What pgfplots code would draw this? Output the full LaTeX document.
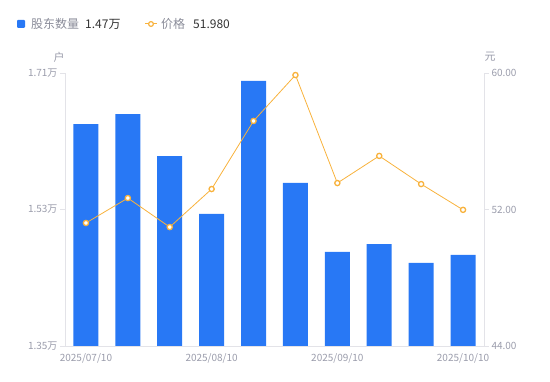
\documentclass[border=0pt]{standalone}
\usepackage{pgfplots}
\pgfplotsset{compat=1.18}
\usepackage{fontspec}
\setmainfont{Noto Sans CJK SC}
\definecolor{barblue}{HTML}{2878F5}
\definecolor{lineor}{HTML}{F8B23C}
\definecolor{tickgray}{HTML}{9A9CAB}
\definecolor{axgray}{HTML}{E3E3E8}
\definecolor{legtext}{HTML}{8A8C99}
\definecolor{legval}{HTML}{333333}
\begin{document}
\begin{tikzpicture}[x=1pt,y=1pt]
\path (0,0) rectangle (550,381);
\begin{axis}[
  at={(65pt,35pt)}, anchor=south west, scale only axis,
  width=419pt, height=273pt,
  xmin=0.5, xmax=10.5, ymin=1.35, ymax=1.71,
  axis x line*=bottom, axis y line*=left,
  axis line style={draw=axgray,-},
  xtick={1,4,7,10},
  xticklabels={2025/07/10,2025/08/10,2025/09/10,2025/10/10},
  x tick style={draw=none},
  ytick={1.35,1.53,1.71},
  yticklabels={1.35万,1.53万,1.71万},
  y tick style={draw=axgray},
  tick align=outside, major tick length=5pt,
  ticklabel style={font=\fontsize{10}{12}\selectfont, text=tickgray},
  xticklabel style={yshift=1pt},
  yticklabel style={xshift=1pt},
  clip=false,
]
\addplot[ybar, bar width=25pt, bar shift=0pt, fill=barblue, draw=none] coordinates {
 (1,1.6427) (2,1.6559) (3,1.6005) (4,1.5241) (5,1.6995)
 (6,1.5650) (7,1.4740) (8,1.4845) (9,1.4595) (10,1.4700)};
\end{axis}
\begin{axis}[
  at={(65pt,35pt)}, anchor=south west, scale only axis,
  width=419pt, height=273pt,
  xmin=0.5, xmax=10.5, ymin=44, ymax=60,
  axis x line=none, axis y line*=right,
  axis line style={draw=axgray,-},
  ytick={44,52,60},
  yticklabels={44.00,52.00,60.00},
  y tick style={draw=axgray},
  tick align=outside, major tick length=5pt,
  ticklabel style={font=\fontsize{10}{12}\selectfont, text=tickgray},
  yticklabel style={xshift=-1pt},
  clip=false,
]
\addplot[lineor, line width=0.8pt, mark=*, mark size=2.6pt,
  mark options={fill=white, draw=lineor, line width=1.3pt}] coordinates {
 (1,51.21) (2,52.67) (3,50.97) (4,53.20) (5,57.19)
 (6,59.88) (7,53.55) (8,55.14) (9,53.49) (10,51.98)};
\end{axis}
% axis titles
\node[text=tickgray, font=\fontsize{11}{13}\selectfont] at (59,324) {户};
\node[text=tickgray, font=\fontsize{11}{13}\selectfont] at (490,324) {元};
% legend
\fill[barblue, rounded corners=1pt] (17,353) rectangle (25,361);
\node[anchor=west, inner sep=0pt, text=legtext, font=\fontsize{12}{14}\selectfont] at (31,357) {股东数量};
\node[anchor=west, inner sep=0pt, text=legval, font=\fontsize{12}{14}\selectfont] at (85,357) {1.47万};
\draw[lineor, line width=1pt] (145,357) -- (157,357);
\draw[lineor, fill=white, line width=1.2pt] (151,357) circle (2.4);
\node[anchor=west, inner sep=0pt, text=legtext, font=\fontsize{12}{14}\selectfont] at (161,357) {价格};
\node[anchor=west, inner sep=0pt, text=legval, font=\fontsize{12}{14}\selectfont] at (193,357) {51.980};
\end{tikzpicture}
\end{document}
